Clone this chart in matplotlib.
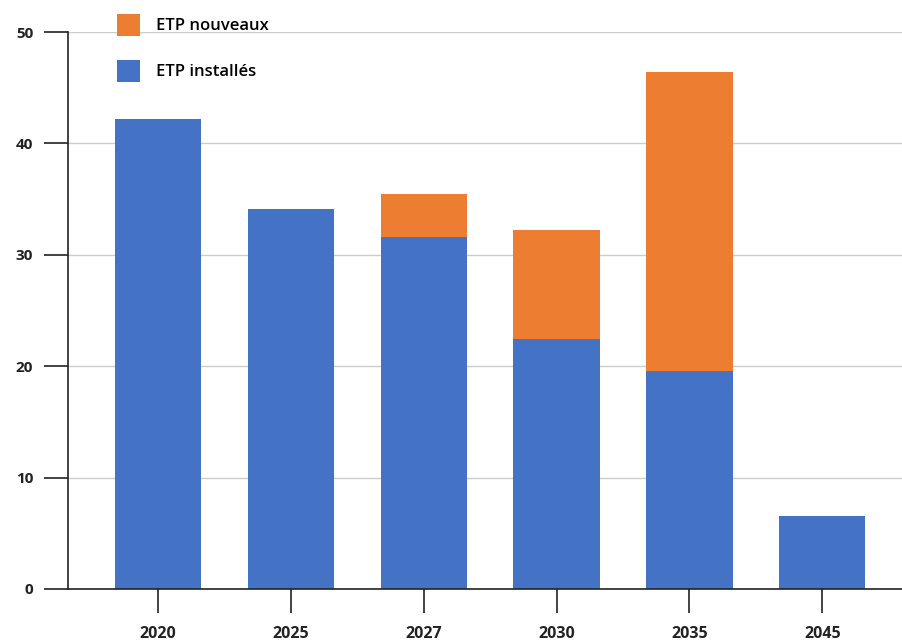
import matplotlib.pyplot as plt
from matplotlib.patches import Patch

years = ['2020', '2025', '2027', '2030', '2035', '2045']
installes = [42.2, 34.1, 31.6, 22.4, 19.6, 6.55]
nouveaux = [0, 0, 3.9, 9.8, 26.8, 0]

blue = '#4472C4'
orange = '#ED7D31'

plt.rcParams['font.family'] = ['Open Sans', 'DejaVu Sans']

fig = plt.figure(figsize=(9.02, 6.41), dpi=100)
ax = fig.add_axes([68 / 902, 52 / 641, 1 - 68 / 902, 557 / 641])

x = range(len(years))
ax.bar(x, installes, width=0.65, color=blue, zorder=2)
ax.bar(x, nouveaux, width=0.65, bottom=installes, color=orange, zorder=2)

ax.set_xlim(-0.677, 5.6)
ax.set_ylim(0, 50)
ax.set_xticks(list(x))
ax.set_xticklabels(years, fontweight='bold', fontsize=11.5, color='#222222')
ax.set_yticks([0, 10, 20, 30, 40, 50])
ax.set_yticklabels(['0', '10', '20', '30', '40', '50'], fontweight='bold',
                   fontsize=11, color='#222222')
ax.tick_params(axis='y', length=17, width=1.2, pad=8, color='#222222')
ax.tick_params(axis='x', length=17, width=1.2, pad=10, color='#222222')

ax.grid(axis='y', color='#cccccc', linewidth=1, zorder=0)
ax.spines['top'].set_visible(False)
ax.spines['right'].set_visible(False)
for side in ['left', 'bottom']:
    ax.spines[side].set_linewidth(1.2)
    ax.spines[side].set_color('#222222')

handles = [Patch(facecolor=orange, label='ETP nouveaux'),
           Patch(facecolor=blue, label='ETP installés')]
fig.legend(handles=handles, loc='upper left',
           bbox_to_anchor=(117 / 902, 1 - 14 / 641), frameon=False,
           prop={'size': 12, 'weight': 'semibold'},
           handlelength=1.38, handleheight=1.65,
           handletextpad=0.95, labelspacing=1.42, borderpad=0,
           borderaxespad=0)

fig.savefig('out.png', dpi=100)
